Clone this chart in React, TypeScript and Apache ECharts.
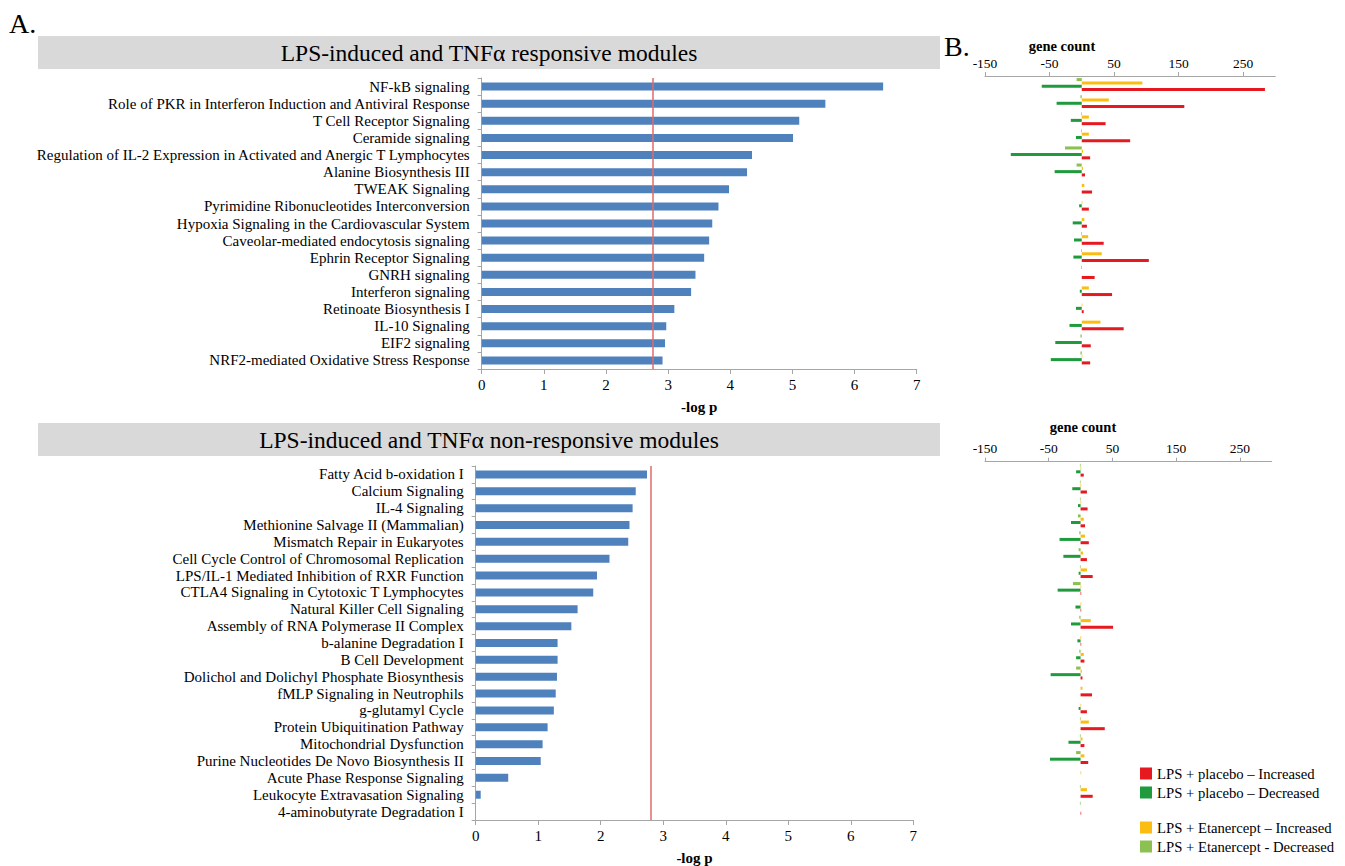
import React, { useEffect, useRef } from "react";
import * as echarts from "echarts";

const topModules = [
  "NF-kB signaling",
  "Role of PKR in Interferon Induction and Antiviral Response",
  "T Cell Receptor Signaling",
  "Ceramide signaling",
  "Regulation of IL-2 Expression in Activated and Anergic T Lymphocytes",
  "Alanine Biosynthesis III",
  "TWEAK Signaling",
  "Pyrimidine Ribonucleotides Interconversion",
  "Hypoxia Signaling in the Cardiovascular System",
  "Caveolar-mediated endocytosis signaling",
  "Ephrin Receptor Signaling",
  "GNRH signaling",
  "Interferon signaling",
  "Retinoate Biosynthesis I",
  "IL-10 Signaling",
  "EIF2 signaling",
  "NRF2-mediated Oxidative Stress Response",
];
const topLogP = [6.46, 5.53, 5.11, 5.01, 4.35, 4.27, 3.98, 3.81, 3.71, 3.66, 3.58, 3.44, 3.37, 3.1, 2.97, 2.95, 2.91];
const topThreshold = 2.75;

const bottomModules = [
  "Fatty Acid b-oxidation I",
  "Calcium Signaling",
  "IL-4 Signaling",
  "Methionine Salvage II (Mammalian)",
  "Mismatch Repair in Eukaryotes",
  "Cell Cycle Control of Chromosomal Replication",
  "LPS/IL-1 Mediated Inhibition of RXR Function",
  "CTLA4 Signaling in Cytotoxic T Lymphocytes",
  "Natural Killer Cell Signaling",
  "Assembly of RNA Polymerase II Complex",
  "b-alanine Degradation I",
  "B Cell Development",
  "Dolichol and Dolichyl Phosphate Biosynthesis",
  "fMLP Signaling in Neutrophils",
  "g-glutamyl Cycle",
  "Protein Ubiquitination Pathway",
  "Mitochondrial Dysfunction",
  "Purine Nucleotides De Novo Biosynthesis II",
  "Acute Phase Response Signaling",
  "Leukocyte Extravasation Signaling",
  "4-aminobutyrate Degradation I",
];
const bottomLogP = [2.74, 2.56, 2.51, 2.46, 2.44, 2.14, 1.94, 1.88, 1.63, 1.53, 1.31, 1.31, 1.3, 1.28, 1.25, 1.15, 1.07, 1.04, 0.52, 0.08, 0];
const bottomThreshold = 2.8;

// gene counts, panel B (top = responsive modules)
const topPlaceboUp = [284, 159, 37, 75, 13, 5, 16, 11, 8, 34, 104, 20, 47, 3, 65, 14, 13];
const topPlaceboDown = [-62, -39, -17, -9, -110, -42, 0, -4, -14, -12, -13, 0, -3, -9, -19, -41, -48];
const topEtanUp = [94, 42, 11, 11, 2, 2, 4, 1, 4, 10, 31, 0, 11, 1, 29, 0, 1];
const topEtanDown = [-8, -2, -1, -1, -26, -8, 0, 0, 0, -1, -1, -1, 0, 0, 0, -2, -2];

// gene counts, panel B (bottom = non-responsive modules)
const bottomPlaceboUp = [5, 10, 11, 7, 13, 10, 19, 1, 1, 51, 1, 6, 3, 18, 10, 38, 6, 12, 0, 19, 1];
const bottomPlaceboDown = [-7, -13, -4, -15, -33, -27, -3, -36, -8, -15, -5, -7, -47, 0, -3, 0, -19, -48, 0, 0, 0];
const bottomEtanUp = [1, 1, 1, 5, 7, 4, 10, 1, 1, 16, 1, 5, 2, 3, 1, 13, 3, 6, 1, 10, 0];
const bottomEtanDown = [-1, -1, -1, -4, -2, -3, -1, -12, 0, -2, 0, -2, -7, 0, 0, -1, -1, -7, 0, -1, -1];

const seriesNames = [
  "LPS + placebo – Increased",
  "LPS + placebo – Decreased",
  "LPS + Etanercept – Increased",
  "LPS + Etanercept - Decreased",
];

const SERIF = "'Liberation Serif', 'Times New Roman', serif";
const AXIS_GRAY = "#a6a6a6";
const BLUE = "#4f81bd";
const RED = "#e5191f";
const GREEN = "#1f9a3c";
const YELLOW = "#fbbd12";
const LIGHTGREEN = "#8cc152";
const THRESH = "#e06a6a";

function buildOption() {
  const logAxis = (gridIndex: number, nameGap: number) => ({
    type: "value",
    gridIndex,
    min: 0,
    max: 7,
    interval: 1,
    name: "-log p",
    nameLocation: "middle",
    nameGap,
    nameTextStyle: { fontFamily: SERIF, fontSize: 15, fontWeight: "bold", color: "#000" },
    axisLine: { show: true, lineStyle: { color: AXIS_GRAY, width: 1 } },
    axisTick: { show: true, length: 5, lineStyle: { color: AXIS_GRAY } },
    axisLabel: { fontFamily: SERIF, fontSize: 15, color: "#000", margin: 8 },
    splitLine: { show: false },
  });
  const geneAxis = (gridIndex: number) => ({
    type: "value",
    gridIndex,
    position: "top",
    min: -150,
    max: 300,
    interval: 100,
    axisLine: { show: true, lineStyle: { color: AXIS_GRAY, width: 1 } },
    axisTick: { show: true, length: 4, lineStyle: { color: AXIS_GRAY } },
    axisLabel: { fontFamily: SERIF, fontSize: 13.5, color: "#000", margin: 6, showMaxLabel: false },
    splitLine: { show: false },
  });
  const catAxis = (gridIndex: number, data: string[]) => ({
    type: "category",
    gridIndex,
    data,
    inverse: true,
    axisLine: { show: true, lineStyle: { color: AXIS_GRAY, width: 1 } },
    axisTick: { show: true, length: 4, lineStyle: { color: AXIS_GRAY } },
    axisLabel: { fontFamily: SERIF, fontSize: 15, color: "#000", margin: 12, interval: 0 },
  });
  const hiddenCat = (gridIndex: number, data: string[]) => ({
    type: "category",
    gridIndex,
    data,
    inverse: true,
    show: false,
  });
  const thresholdLine = (x: number) => ({
    silent: true,
    symbol: "none",
    label: { show: false },
    lineStyle: { color: THRESH, type: "solid", width: 1.5 },
    data: [{ xAxis: x }],
  });
  const geneSeries = (axisIdx: number, up: number[], down: number[], eUp: number[], eDown: number[]) => {
    const common = {
      type: "bar",
      xAxisIndex: axisIdx,
      yAxisIndex: axisIdx,
      barWidth: 3,
      barGap: "10%",
    };
    return [
      { ...common, name: seriesNames[3], data: eDown, itemStyle: { color: LIGHTGREEN } },
      { ...common, name: seriesNames[2], data: eUp, itemStyle: { color: YELLOW } },
      { ...common, name: seriesNames[1], data: down, itemStyle: { color: GREEN } },
      { ...common, name: seriesNames[0], data: up, itemStyle: { color: RED } },
    ];
  };
  const legendBase = {
    orient: "vertical",
    left: 1140,
    padding: 0,
    itemWidth: 12,
    itemHeight: 12,
    itemGap: 4,
    icon: "rect",
    selectedMode: false,
    textStyle: { fontFamily: SERIF, fontSize: 14.7, color: "#000" },
  };

  return {
    animation: false,
    backgroundColor: "#fff",
    grid: [
      { left: 481.7, top: 78, width: 435, height: 291 },
      { left: 475.7, top: 466, width: 437.6, height: 355 },
      { left: 985, top: 76, width: 290.25, height: 290.5 },
      { left: 985, top: 461.7, width: 286.7, height: 355 },
    ],
    xAxis: [logAxis(0, 30), logAxis(1, 30), geneAxis(2), geneAxis(3)],
    yAxis: [catAxis(0, topModules), catAxis(1, bottomModules), hiddenCat(2, topModules), hiddenCat(3, bottomModules)],
    legend: [
      { ...legendBase, data: [seriesNames[0], seriesNames[1]], top: 766 },
      { ...legendBase, data: [seriesNames[2], seriesNames[3]], top: 820 },
    ],
    graphic: [
      { type: "rect", shape: { x: 38, y: 36, width: 902, height: 33 }, style: { fill: "#d9d9d9" }, silent: true },
      { type: "rect", shape: { x: 38, y: 423, width: 902, height: 33 }, style: { fill: "#d9d9d9" }, silent: true },
      {
        type: "text",
        x: 489,
        y: 52.5,
        style: { text: "LPS-induced and TNFα responsive modules", fontFamily: SERIF, fontSize: 23.5, fill: "#000", align: "center", verticalAlign: "middle" },
      },
      {
        type: "text",
        x: 489,
        y: 439.5,
        style: { text: "LPS-induced and TNFα non-responsive modules", fontFamily: SERIF, fontSize: 23.5, fill: "#000", align: "center", verticalAlign: "middle" },
      },
      { type: "text", x: 9, y: 23, style: { text: "A.", fontFamily: SERIF, fontSize: 28, fill: "#000", verticalAlign: "middle" } },
      { type: "text", x: 944, y: 46, style: { text: "B.", fontFamily: SERIF, fontSize: 28, fill: "#000", verticalAlign: "middle" } },
      {
        type: "text",
        x: 1062,
        y: 45.5,
        style: { text: "gene count", fontFamily: SERIF, fontSize: 14.5, fontWeight: "bold", fill: "#000", align: "center", verticalAlign: "middle" },
      },
      {
        type: "text",
        x: 1083,
        y: 427,
        style: { text: "gene count", fontFamily: SERIF, fontSize: 14.5, fontWeight: "bold", fill: "#000", align: "center", verticalAlign: "middle" },
      },
    ],
    series: [
      {
        type: "bar",
        xAxisIndex: 0,
        yAxisIndex: 0,
        data: topLogP,
        barWidth: 8,
        itemStyle: { color: BLUE },
        markLine: thresholdLine(topThreshold),
      },
      {
        type: "bar",
        xAxisIndex: 1,
        yAxisIndex: 1,
        data: bottomLogP,
        barWidth: 8,
        itemStyle: { color: BLUE },
        markLine: thresholdLine(bottomThreshold),
      },
      ...geneSeries(2, topPlaceboUp, topPlaceboDown, topEtanUp, topEtanDown),
      ...geneSeries(3, bottomPlaceboUp, bottomPlaceboDown, bottomEtanUp, bottomEtanDown),
    ],
  };
}

export default function App() {
  const ref = useRef<HTMLDivElement>(null);
  useEffect(() => {
    if (!ref.current) return;
    const chart = echarts.init(ref.current, null, { renderer: "svg" });
    chart.setOption(buildOption() as any);
    return () => chart.dispose();
  }, []);
  return (
    <div
      ref={ref}
      style={{ position: "fixed", left: 0, top: 0, width: 1345, height: 866, background: "#fff" }}
    />
  );
}
